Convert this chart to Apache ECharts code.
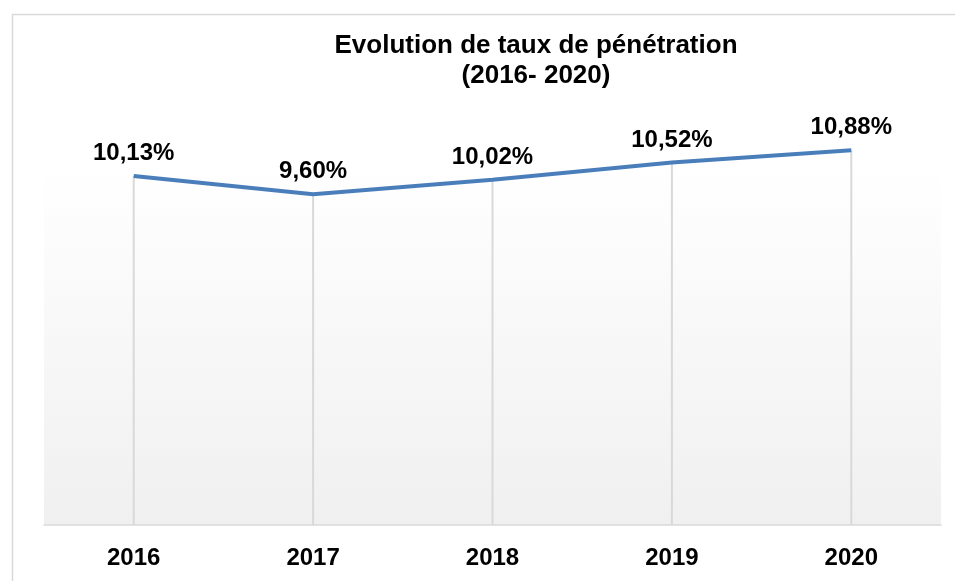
<!DOCTYPE html>
<html>
<head>
<meta charset="utf-8">
<script src="https://cdn.jsdelivr.net/npm/echarts@6/dist/echarts.min.js"></script>
<style>
  html, body { margin: 0; padding: 0; background: #fff; }
  #chart { width: 955px; height: 581px; }
</style>
</head>
<body>
<div id="chart"></div>
<script>
const years = ['2016', '2017', '2018', '2019', '2020']
const rates = [10.13, 9.60, 10.02, 10.52, 10.88]
const titleText = 'Evolution de taux de pénétration\n(2016- 2020)'

const font = '"Liberation Sans Narrow", "Liberation Sans", Arial, sans-serif'

const chart = echarts.init(document.getElementById('chart'))

const option = {
  animation: false,
  backgroundColor: '#ffffff',
  graphic: [
    {
      type: 'rect',
      left: 10,
      top: 12,
      shape: { width: 980, height: 620 },
      style: { fill: 'none', stroke: '#d9d9d9', lineWidth: 1.5 },
      silent: true
    }
  ],
  title: {
    text: titleText,
    left: 531,
    top: 26,
    textAlign: 'center',
    textStyle: {
      fontFamily: font,
      fontSize: 26,
      fontWeight: 'bold',
      color: '#000',
      lineHeight: 30
    }
  },
  grid: {
    left: 44,
    right: 14,
    top: 165,
    bottom: 56,
    show: true,
    borderWidth: 0,
    backgroundColor: new echarts.graphic.LinearGradient(0, 0, 0, 1, [
      { offset: 0, color: '#ffffff' },
      { offset: 1, color: '#f0f0f0' }
    ])
  },
  xAxis: {
    type: 'category',
    data: years,
    boundaryGap: true,
    axisLine: { lineStyle: { color: '#d9d9d9', width: 1.5 } },
    axisTick: { show: false },
    axisLabel: {
      margin: 21,
      fontFamily: font,
      fontSize: 24,
      fontWeight: 'bold',
      color: '#000'
    },
    splitLine: { show: false }
  },
  yAxis: {
    type: 'value',
    min: 0,
    max: 10.45,
    show: false,
    splitLine: { show: false }
  },
  series: [
    {
      // drop lines from each point to the axis
      type: 'bar',
      data: rates,
      barWidth: 2,
      clip: false,
      silent: true,
      z: 1,
      itemStyle: { color: '#d9d9d9' }
    },
    {
      type: 'line',
      data: rates,
      clip: false,
      showSymbol: true,
      symbol: 'circle',
      symbolSize: 1,
      z: 3,
      itemStyle: { color: 'rgba(74,126,187,0)' },
      lineStyle: { color: '#4a7ebb', width: 4 },
      label: {
        show: true,
        position: 'top',
        distance: 10,
        fontFamily: font,
        fontSize: 24,
        fontWeight: 'bold',
        color: '#000',
        formatter: (p) => p.value.toFixed(2).replace('.', ',') + '%'
      }
    }
  ]
}

chart.setOption(option)
</script>
</body>
</html>
